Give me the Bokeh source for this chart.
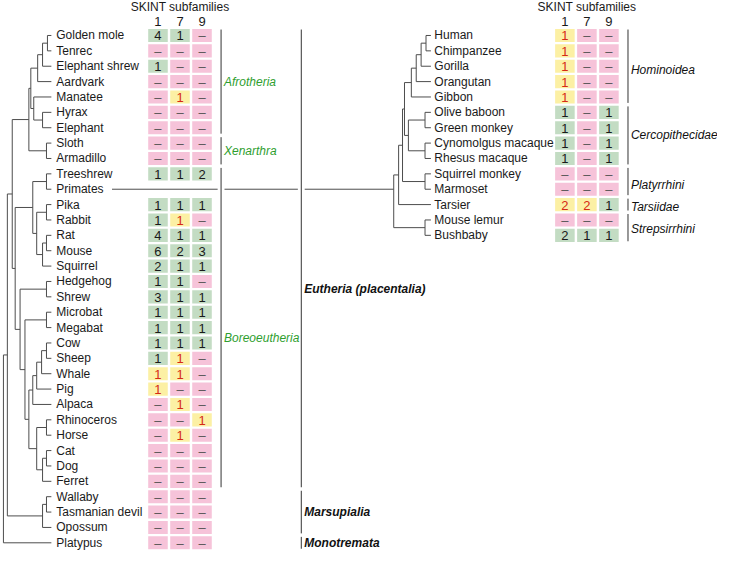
from bokeh.plotting import figure
from bokeh.models import Range1d
from bokeh.core.properties import value
from bokeh.embed import file_html
from bokeh.resources import INLINE

# ---------------- data ----------------
subfamilies = ["1", "7", "9"]

left_species = ["Golden mole", "Tenrec", "Elephant shrew", "Aardvark", "Manatee", "Hyrax",
                "Elephant", "Sloth", "Armadillo", "Treeshrew", "Primates", "Pika", "Rabbit",
                "Rat", "Mouse", "Squirrel", "Hedgehog", "Shrew", "Microbat", "Megabat", "Cow",
                "Sheep", "Whale", "Pig", "Alpaca", "Rhinoceros", "Horse", "Cat", "Dog", "Ferret",
                "Wallaby", "Tasmanian devil", "Opossum", "Platypus"]
# "N" = intact copies (green), "pN" = pseudogene copies (yellow), "-" = absent (pink), "" = no cell
left_skint1 = ["4", "-", "1", "-", "-", "-", "-", "-", "-", "1", "", "1", "1", "4", "6", "2",
               "1", "3", "1", "1", "1", "1", "p1", "p1", "-", "-", "-", "-", "-", "-",
               "-", "-", "-", "-"]
left_skint7 = ["1", "-", "-", "-", "p1", "-", "-", "-", "-", "1", "", "1", "p1", "1", "2", "1",
               "1", "1", "1", "1", "1", "p1", "p1", "-", "p1", "-", "p1", "-", "-", "-",
               "-", "-", "-", "-"]
left_skint9 = ["-", "-", "-", "-", "-", "-", "-", "-", "-", "2", "", "1", "-", "1", "3", "1",
               "-", "1", "1", "1", "1", "-", "-", "-", "-", "p1", "-", "-", "-", "-",
               "-", "-", "-", "-"]

right_species = ["Human", "Chimpanzee", "Gorilla", "Orangutan", "Gibbon", "Olive baboon",
                 "Green monkey", "Cynomolgus macaque", "Rhesus macaque", "Squirrel monkey",
                 "Marmoset", "Tarsier", "Mouse lemur", "Bushbaby"]
right_skint1 = ["p1", "p1", "p1", "p1", "p1", "1", "1", "1", "1", "-", "-", "p2", "-", "2"]
right_skint7 = ["-", "-", "-", "-", "-", "-", "-", "-", "-", "-", "-", "p2", "-", "1"]
right_skint9 = ["-", "-", "-", "-", "-", "1", "1", "1", "1", "-", "-", "1", "-", "1"]

left_inner_groups = ["Afrotheria", "Xenarthra", "Boreoeutheria"]
left_inner_first = [0, 7, 9]
left_inner_last = [6, 8, 29]
left_inner_label_row = [3, 7.5, 19.65]

left_outer_groups = ["Eutheria (placentalia)", "Marsupialia", "Monotremata"]
left_outer_first = [0, 30, 33]
left_outer_last = [29, 32, 33]
left_outer_label_row = [16.5, 31, 33]

right_groups = ["Hominoidea", "Cercopithecidae", "Platyrrhini", "Tarsiidae", "Strepsirrhini"]
right_first = [0, 5, 9, 11, 12]
right_last = [4, 8, 10, 11, 13]
right_label_row = [2.25, 6.5, 9.7, 11.15, 12.6]

# tree topology: [node depth, child, child, ...]; leaves are species names
left_tree = [3,
    [7,
        [12,
            [29,
                [31,
                    [38, [43, [48, "Golden mole", "Tenrec"], "Elephant shrew"], "Aardvark"],
                    [34, "Manatee", [43, "Hyrax", "Elephant"]]],
                [47, "Sloth", "Armadillo"]],
            [15,
                [33,
                    [47, "Treeshrew", "Primates"],
                    [37, [47, "Pika", "Rabbit"], [43, [47, "Rat", "Mouse"], "Squirrel"]]],
                [20,
                    [47, "Hedgehog", "Shrew"],
                    [25,
                        [47, "Microbat", "Megabat"],
                        [29,
                            [33, [37, [42, [47, "Cow", "Sheep"], "Whale"], "Pig"], "Alpaca"],
                            [37, [47, "Rhinoceros", "Horse"],
                                 [43, [47, "Cat", "Dog"], "Ferret"]]]]]]],
        [43, [47, "Wallaby", "Tasmanian devil"], "Opossum"]],
    "Platypus"]

right_tree = [402,
    [407,
        [411,
            [413,
                [420, [425, [430, [435, "Human", "Chimpanzee"], "Gorilla"], "Orangutan"], "Gibbon"],
                [417, [434, "Olive baboon", "Green monkey"],
                      [434, "Cynomolgus macaque", "Rhesus macaque"]]],
            [434, "Squirrel monkey", "Marmoset"]],
        "Tarsier"],
    [434, "Mouse lemur", "Bushbaby"]]

# ---------------- layout ----------------
ROW0, PITCH = 36.0, 15.82
CELL_W, CELL_H = 20.0, 13.5
COL_PITCH = 22.5
LEFT_COL0, RIGHT_COL0 = 161.0, 577.0
LEFT_TIP, RIGHT_TIP = 52.0, 440.0
LEFT_LABEL_X, RIGHT_LABEL_X = 57.0, 443.5
LEFT_INNER_BAR, LEFT_OUTER_BAR, RIGHT_BAR = 225.5, 307.5, 641.5
FONT = value("Liberation Sans")
TREE_COLOR = "#4d4d4d"
GREEN, PINK, YELLOW = "#c3dcc3", "#f6c3d9", "#fcf0a4"


def row_y(i):
    return ROW0 + PITCH * i


p = figure(width=717, height=551, output_backend="svg", toolbar_location=None,
           x_range=Range1d(0, 733), y_range=Range1d(567, 0), min_border=0)
p.axis.visible = False
p.grid.visible = False
p.outline_line_color = None


def layout_tree(node, rows, tip_x, segs):
    if isinstance(node, str):
        return tip_x, rows[node]
    x = node[0]
    kids = [layout_tree(c, rows, tip_x, segs) for c in node[1:]]
    ys = [k[1] for k in kids]
    segs.append((x, ys[0], x, ys[-1]))
    for kx, ky in kids:
        segs.append((x, ky, kx, ky))
    return x, (ys[0] + ys[-1]) / 2


segs = []
left_rows = {s: row_y(i) for i, s in enumerate(left_species)}
right_rows = {s: row_y(i) for i, s in enumerate(right_species)}
layout_tree(left_tree, left_rows, LEFT_TIP, segs)
right_root_x, _ = layout_tree(right_tree, right_rows, RIGHT_TIP, segs)

# connector from "Primates" leaf to primate tree root
py = left_rows["Primates"]
segs.append((114, py, LEFT_INNER_BAR - 3.5, py))
segs.append((LEFT_INNER_BAR + 3.5, py, LEFT_OUTER_BAR - 3.5, py))
segs.append((LEFT_OUTER_BAR + 3.5, py, right_root_x, py))

p.segment(x0=[s[0] for s in segs], y0=[s[1] for s in segs],
          x1=[s[2] for s in segs], y1=[s[3] for s in segs],
          line_color=TREE_COLOR, line_width=1)


def draw_panel(species, cols, col0, label_x):
    ys = [row_y(i) for i in range(len(species))]
    p.text(x=[label_x] * len(species), y=ys, text=species, text_font=FONT,
           text_font_size="12px", text_align="left", text_baseline="middle",
           text_color="#1a1a1a")
    cx, cy, fill, tx, ty, tt, tc = [], [], [], [], [], [], []
    for j, col in enumerate(cols):
        x = col0 + COL_PITCH * j
        for i, v in enumerate(col):
            if v == "":
                continue
            cx.append(x); cy.append(ys[i])
            if v == "-":
                fill.append(PINK); tt.append("–"); tc.append("#555555")
            elif v.startswith("p"):
                fill.append(YELLOW); tt.append(v[1:]); tc.append("#d62a16")
            else:
                fill.append(GREEN); tt.append(v); tc.append("#1a1a1a")
            tx.append(x); ty.append(ys[i] + 0.5)
    p.rect(x=cx, y=cy, width=CELL_W, height=CELL_H, fill_color=fill, line_color=None)
    p.text(x=tx, y=ty, text=tt, text_color=tc, text_font=FONT, text_font_size="13px",
           text_align="center", text_baseline="middle")
    hx = col0 + COL_PITCH
    p.text(x=[hx], y=[7], text=["SKINT subfamilies"], text_font=FONT, text_font_size="12px",
           text_align="center", text_baseline="middle", text_color="#1a1a1a")
    p.text(x=[col0 + COL_PITCH * j for j in range(3)], y=[21.5] * 3, text=subfamilies,
           text_font=FONT, text_font_size="13px", text_align="center",
           text_baseline="middle", text_color="#1a1a1a")


draw_panel(left_species, [left_skint1, left_skint7, left_skint9], LEFT_COL0, LEFT_LABEL_X)
draw_panel(right_species, [right_skint1, right_skint7, right_skint9], RIGHT_COL0, RIGHT_LABEL_X)


def draw_groups(names, first, last, label_rows, bar_x, color, style):
    y0 = [row_y(a) - PITCH / 2 + 1.8 for a in first]
    y1 = [row_y(b) + PITCH / 2 - 1.8 for b in last]
    p.segment(x0=[bar_x] * len(names), y0=y0, x1=[bar_x] * len(names), y1=y1,
              line_color="#333333", line_width=1)
    p.text(x=[bar_x + 3] * len(names), y=[row_y(r) for r in label_rows], text=names,
           text_font=FONT, text_font_size="12px", text_font_style=style,
           text_color=color, text_align="left", text_baseline="middle")


draw_groups(left_inner_groups, left_inner_first, left_inner_last, left_inner_label_row,
            LEFT_INNER_BAR, "#2e9e2e", "italic")
draw_groups(left_outer_groups, left_outer_first, left_outer_last, left_outer_label_row,
            LEFT_OUTER_BAR, "#111111", "bold italic")
draw_groups(right_groups, right_first, right_last, right_label_row,
            RIGHT_BAR, "#111111", "italic")

open("out.html", "w").write(file_html(p, INLINE))
